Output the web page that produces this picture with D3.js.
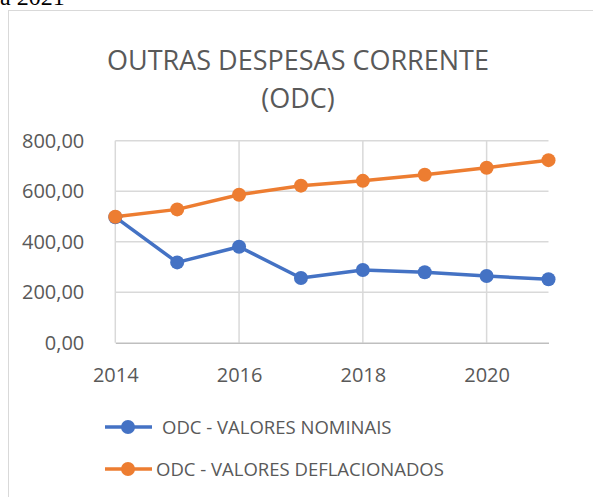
<!DOCTYPE html>
<html>
<head>
<meta charset="utf-8">
<script src="https://cdn.jsdelivr.net/npm/d3@7"></script>
<style>
  body { margin: 0; background: #fff; }
  text { font-family: "Open Sans", "Noto Sans", sans-serif; }
</style>
</head>
<body>
<div class="chart"></div>
<script>
// data
var years = [2014, 2015, 2016, 2017, 2018, 2019, 2020, 2021];
var nominais = [497, 318, 380, 256, 288, 279, 264, 251];
var deflacionados = [499, 528, 586, 622, 641, 665, 693, 723];
var yTicks = [0, 200, 400, 600, 800];
var xTicks = [2014, 2016, 2018, 2020];
var seriesNames = ["ODC - VALORES NOMINAIS", "ODC - VALORES DEFLACIONADOS"];
var colors = ["#4472C4", "#ED7D31"];

var W = 593, H = 497;
var svg = d3.select(".chart").append("svg")
    .attr("width", W)
    .attr("height", H);

// clipped caption from the document above the chart
svg.append("text")
    .attr("x", 0)
    .attr("y", 5)
    .style("font-family", "'Liberation Serif', serif")
    .style("font-size", "24px")
    .attr("fill", "#000")
    .text("a 2021");

// chart frame
svg.append("rect")
    .attr("x", 8.5)
    .attr("y", 10.5)
    .attr("width", 600)
    .attr("height", 500)
    .attr("fill", "none")
    .attr("stroke", "#d9d9d9");

// title
var title = svg.append("text")
    .attr("text-anchor", "middle")
    .attr("fill", "#595959")
    .style("font-size", "27px");
title.append("tspan").attr("x", 298).attr("y", 70).text("OUTRAS DESPESAS CORRENTE");
title.append("tspan").attr("x", 298).attr("y", 108).text("(ODC)");

var x = d3.scaleLinear().domain([2014, 2021]).range([115.3, 548.5]);
var y = d3.scaleLinear().domain([0, 800]).range([342.7, 140.7]);

// gridlines
svg.append("g").selectAll("line.h")
    .data(yTicks.filter(function(d){ return d > 0; }))
  .enter().append("line")
    .attr("x1", x(2014)).attr("x2", x(2021))
    .attr("y1", function(d){ return y(d); })
    .attr("y2", function(d){ return y(d); })
    .attr("stroke", "#d9d9d9")
    .attr("stroke-width", 1.5);

svg.append("g").selectAll("line.v")
    .data(xTicks)
  .enter().append("line")
    .attr("y1", y(800)).attr("y2", y(0))
    .attr("x1", function(d){ return x(d); })
    .attr("x2", function(d){ return x(d); })
    .attr("stroke", "#d9d9d9")
    .attr("stroke-width", 1.5);

// axes
var yAxis = d3.axisLeft(y)
    .tickValues(yTicks)
    .tickSize(0)
    .tickPadding(31)
    .tickFormat(function(d){ return d3.format(".2f")(d).replace(".", ","); });
var gy = svg.append("g")
    .attr("transform", "translate(" + x(2014) + ",0)")
    .call(yAxis);
gy.select(".domain").remove();
gy.selectAll("text")
    .attr("fill", "#595959")
    .style("font-size", "20px")
    .style("font-family", "'Open Sans', sans-serif");

var xAxis = d3.axisBottom(x)
    .tickValues(xTicks)
    .tickSize(0)
    .tickPadding(25)
    .tickFormat(d3.format("d"));
var gx = svg.append("g")
    .attr("transform", "translate(0," + y(0) + ")")
    .call(xAxis);
gx.select(".domain").attr("stroke", "#bfbfbf").attr("stroke-width", 1.5);
gx.selectAll("text")
    .attr("fill", "#595959")
    .style("font-size", "20px")
    .style("font-family", "'Open Sans', sans-serif");

// lines
var line = d3.line()
    .x(function(d, i){ return x(years[i]); })
    .y(function(d){ return y(d); });

[nominais, deflacionados].forEach(function(s, k){
  svg.append("path")
      .datum(s)
      .attr("d", line)
      .attr("fill", "none")
      .attr("stroke", colors[k])
      .attr("stroke-width", 3.5)
      .attr("stroke-linejoin", "round");
});
[nominais, deflacionados].forEach(function(s, k){
  svg.append("g").selectAll("circle")
      .data(s)
    .enter().append("circle")
      .attr("cx", function(d, i){ return x(years[i]); })
      .attr("cy", function(d){ return y(d); })
      .attr("r", 7)
      .attr("fill", colors[k]);
});

// legend
var legendY = [427, 469];
var legendTextX = [162, 156];
seriesNames.forEach(function(name, k){
  var g = svg.append("g");
  g.append("line")
      .attr("x1", 105).attr("x2", 152)
      .attr("y1", legendY[k]).attr("y2", legendY[k])
      .attr("stroke", colors[k])
      .attr("stroke-width", 3.5);
  g.append("circle")
      .attr("cx", 128).attr("cy", legendY[k])
      .attr("r", 7)
      .attr("fill", colors[k]);
  g.append("text")
      .attr("x", legendTextX[k])
      .attr("y", legendY[k] + 7)
      .attr("fill", "#595959")
      .style("font-size", "18.5px")
      .text(name);
});
</script>
</body>
</html>
